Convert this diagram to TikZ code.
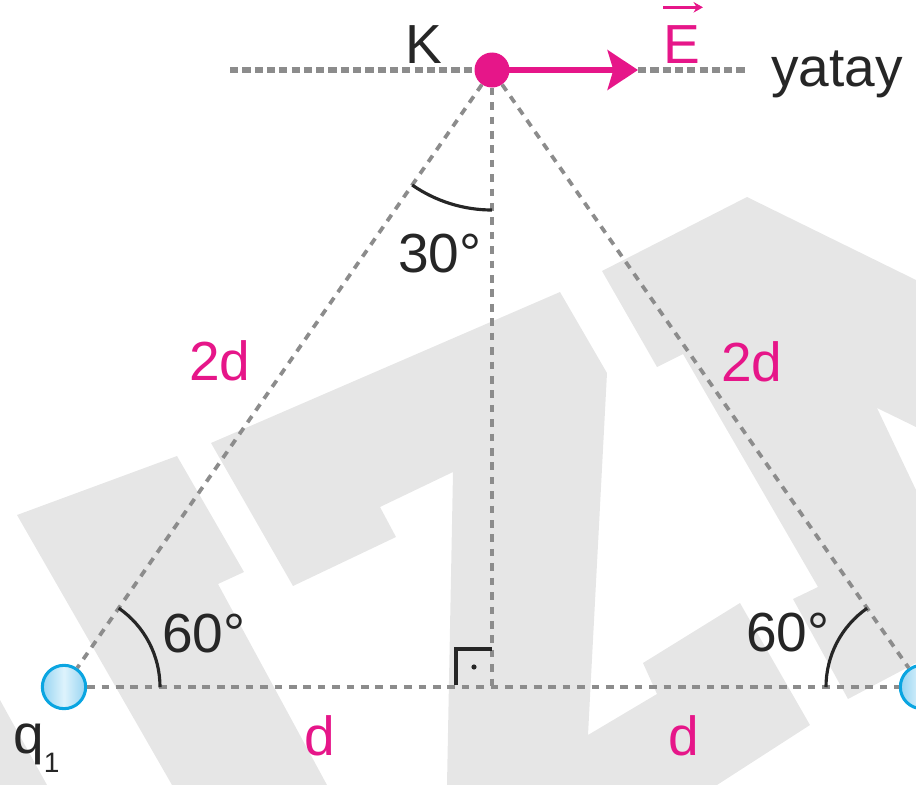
\documentclass[tikz,border=0pt]{standalone}
\usepackage{fontspec}
\setmainfont{Liberation Sans}
\usepackage{tikz}
\usetikzlibrary{arrows.meta,angles,positioning}
\definecolor{kmagenta}{RGB}{230,22,137}
\definecolor{guidegray}{RGB}{140,140,140}
\definecolor{wmgray}{RGB}{230,230,230}
\definecolor{chargeedge}{RGB}{10,165,225}
\definecolor{chargefill}{RGB}{150,212,242}
\definecolor{chargelight}{RGB}{222,243,252}
\newcommand\lblsize{\fontsize{47}{56}\selectfont}
\tikzset{
  guide/.style={draw=guidegray,line width=3.2pt,dash pattern=on 6.5pt off 5.8pt},
  horizon/.style={guide,line width=4.3pt,dash pattern=on 7pt off 3.5pt},
  chargeball/.style={circle,draw=chargeedge,line width=2.6pt,inner sep=0pt,minimum size=1.3cm,
    left color=chargefill,right color=chargefill,middle color=chargelight},
  pointdot/.style={circle,fill=kmagenta,inner sep=0pt,minimum size=1.05cm},
  fieldarrow/.style={draw=kmagenta,line width=4.3pt,-{Stealth[length=26pt,width=34pt,inset=5pt]}},
  vecaccent/.style={draw=kmagenta,line width=2.2pt,-{Stealth[length=8pt,width=9pt]}},
  anglearc/.style={draw=black!85,line width=2.7pt,angle radius=#1},
  rightmark/.style={draw=black!85,line width=2.6pt},
  txt/.style={font=\lblsize,anchor=base,inner sep=0pt,text=black!85},
  magtxt/.style={txt,text=kmagenta},
  watermark/.style={fill=wmgray}
}

\begin{document}
\begin{tikzpicture}[x=0.03cm,y=-0.03cm]
  \useasboundingbox (0,0) rectangle (916,785);
  % watermark in the background
  \fill[watermark] (17,515) -- (177,456) -- (244,572) -- (218,584) -- (327,785) -- (172,785) -- cycle;
  \fill[watermark] (0,700) -- (47,785) -- (0,785) -- cycle;
  \fill[watermark] (211,443) -- (560,292) -- (607,373) -- (588,735) -- (657,694) -- (643,663)
    -- (740,603) -- (810,725) -- (717,785) -- (447,785) -- (453,472) -- (380,507) -- (396,537)
    -- (293,586) -- cycle;
  \fill[watermark] (602,271) -- (747,197) -- (916,280) -- (916,427) -- (877,408) -- (916,490)
    -- (916,663) -- (848,699) -- (793,599) -- (818,587) -- (683,354) -- (657,367) -- cycle;

  \coordinate (H) at (492,688);
  \coordinate (hleft) at (230,70);
  \coordinate (hright) at (748,70);
  \coordinate (Etip) at (638,70);
  \node[pointdot] (K) at (492,70) {};
  \node[chargeball] (q1) at (64,687) {};
  \node[chargeball] (q2) at (922,687) {};

  \draw[horizon] (hleft) -- (K);
  \draw[horizon] (Etip) -- (hright);
  \draw[guide] (K) -- (q1);
  \draw[guide] (K) -- (q2);
  \draw[guide] (K) -- (H);
  \draw[guide] (q1) -- (q2);
  \draw[fieldarrow] (K.center) -- (Etip);

  % angles
  \pic[anglearc=4.2cm] {angle=q1--K--H};
  \pic[anglearc=2.88cm] {angle=H--q1--K};
  \pic[anglearc=2.88cm] {angle=K--q2--H};
  \draw[rightmark] (H) ++(-36,-3) -- ++(0,-36) -- ++(36,0);
  \fill[black!85] (H) ++(-18,-21) circle (2.2pt);

  % labels
  \node[txt] (Klbl) at (424,63) {K};
  \node[magtxt] (Elbl) at (682,63) {E};
  \draw[vecaccent] ([yshift=15pt]Elbl.north west) -- ([yshift=15pt,xshift=2pt]Elbl.north east);
  \node[txt,anchor=base west] (yatay) at (771,86) {yatay};
  \node[txt] (a30) at (440,272) {30°};
  \node[magtxt] (len1) at (220,380) {2d};
  \node[magtxt] (len2) at (752,381) {2d};
  \node[txt] (a60l) at (204,652) {60°};
  \node[txt] (a60r) at (788,651) {60°};
  \node[magtxt] (base1) at (320,755) {d};
  \node[magtxt] (base2) at (684,755) {d};
  \node[txt,anchor=base west] (q1lbl) at (13,753) {q\raisebox{-17pt}{\fontsize{24}{24}\selectfont 1}};
\end{tikzpicture}
\end{document}
